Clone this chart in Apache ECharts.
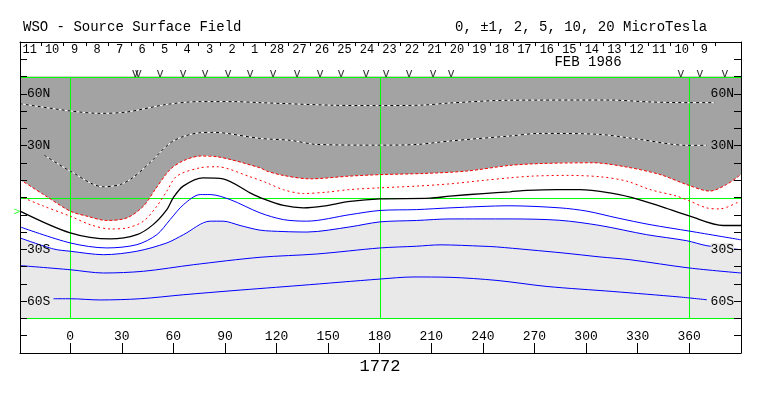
<!DOCTYPE html>
<html><head><meta charset="utf-8">
<script src="https://cdn.jsdelivr.net/npm/echarts@6/dist/echarts.min.js"></script>
<style>html,body{margin:0;padding:0;background:#fff}#c{width:763px;height:396px}</style>
</head><body><div id="c"></div>
<script>
// Latitude values are in "tick units" of the sine-latitude scale: 7 = 90N, 0 = equator, -7 = 90S
const lonMin = -29.2, lonMax = 390.13;

// Contours (Carrington longitude, latitude tick units)
const lonA = [-29.2, 0, 17.4, 33, 56.4, 75.6, 94.7, 110.4, 152.9, 180.2, 205.4, 220.9, 255.8, 313.9, 337.2, 360.4, 374.9];
const latA = [5.43, 5.01, 4.87, 4.95, 5.39, 5.55, 5.55, 5.49, 5.34, 5.32, 5.35, 5.47, 5.63, 5.64, 5.53, 5.49, 5.49];

const lonB = [-15.1, 0, 19.2, 29.1, 36.6, 46.5, 59.9, 75.6, 83.1, 110.4, 127.9, 143.6, 180.2, 201.7, 220.9, 255.8, 273.2, 308.1, 331.3, 358.7, 370.3];
const latB = [2.45, 1.53, 0.62, 0.75, 1.16, 2.03, 3.27, 3.75, 3.77, 3.42, 3.31, 3.07, 3.03, 3.07, 3.27, 3.56, 3.71, 3.65, 3.36, 3.02, 3.02];

const lonR2 = [-29.2, -15.5, 0, 9.7, 21.3, 33, 42.6, 49.4, 58.1, 65.7, 75.6, 85.3, 110.4, 114.3, 123.8, 139.5, 162.8, 182.1, 205.4, 230.6, 255.8, 275, 304, 323.8, 343, 358.5, 372, 381.7, 390.13];
const latR2 = [1.04, 0.17, -0.79, -1.08, -1.33, -1.18, -0.50, 0.46, 1.62, 2.12, 2.40, 2.36, 1.72, 1.53, 1.28, 1.08, 1.24, 1.33, 1.39, 1.53, 1.86, 1.97, 2.01, 1.76, 1.33, 0.75, 0.37, 0.75, 1.33];

const lonR1 = [-27.1, -15.5, 0, 11.6, 23.3, 33, 42.6, 50.4, 56.2, 62, 75.6, 85.3, 104.6, 114.3, 124, 135.6, 149.2, 162.8, 180.2, 201.5, 220.9, 240.2, 255.8, 269.3, 288.7, 308.1, 323.6, 337.2, 352.7, 360.4, 370.1, 377.8, 389.5];
const latR1 = [-0.02, -0.50, -1.08, -1.57, -1.82, -1.76, -1.37, -0.50, 0.37, 1.24, 1.72, 1.78, 1.20, 0.85, 0.45, 0.23, 0.31, 0.46, 0.56, 0.66, 0.79, 0.99, 1.14, 1.24, 1.28, 1.20, 0.95, 0.46, 0.08, -0.21, -0.60, -0.66, -0.21];

const lonN = [-29.2, 0, 23.3, 38.8, 48.2, 56.2, 59.9, 65.7, 77.3, 88.9, 104.6, 112.4, 124, 135.6, 147.2, 162.8, 180.2, 209.3, 220.9, 240.2, 255.8, 265.5, 282.9, 296.5, 313.9, 327.4, 343, 360.4, 379.8, 390.13];
const latN = [-0.79, -2.05, -2.40, -2.15, -1.57, -0.70, -0.02, 0.66, 1.14, 1.08, 0.27, -0.08, -0.46, -0.60, -0.50, -0.23, -0.08, -0.04, 0.08, 0.23, 0.33, 0.41, 0.46, 0.46, 0.27, -0.02, -0.50, -1.08, -1.62, -1.62];

const lonB1 = [-29.2, 0, 21.3, 38.8, 50.4, 58.1, 65.9, 75.6, 81.4, 93, 110.4, 124, 137.6, 162.8, 180.2, 201.5, 220.9, 255.8, 284.8, 300.5, 318, 337.2, 360.4, 390.13];
const latB1 = [-1.70, -2.63, -2.92, -2.73, -2.15, -1.28, -0.41, 0.17, 0.17, -0.12, -0.89, -1.28, -1.37, -0.99, -0.75, -0.70, -0.60, -0.48, -0.60, -0.79, -1.18, -1.57, -1.95, -2.45];

const lonB2 = [-29.2, -9.7, 0, 19.4, 38.8, 56.2, 65.9, 81.4, 88.9, 98.8, 110.4, 123.8, 137.6, 162.8, 180.2, 201.5, 220.9, 255.8, 284.8, 308.1, 335.2, 358.5, 370.3, 390.13];
const latB2 = [-2.34, -2.98, -3.11, -3.31, -3.11, -2.63, -2.15, -1.37, -1.37, -1.62, -1.89, -1.97, -2.00, -1.70, -1.41, -1.33, -1.24, -1.24, -1.32, -1.62, -2.15, -2.50, -2.79, -3.02];

const lonB3 = [-29.2, 0, 19.4, 42.6, 71.7, 110.4, 143.4, 180.2, 201.5, 215.1, 240.1, 248, 286.6, 308.1, 325.5, 360, 390.13];
const latB3 = [-3.94, -4.18, -4.37, -4.27, -3.89, -3.46, -3.27, -2.92, -2.82, -2.74, -2.82, -2.86, -3.21, -3.44, -3.60, -4.08, -4.37];

const lonB4 = [-9.7, 0, 17.4, 40.7, 65.7, 94.7, 133.7, 180.2, 199.4, 220.9, 248.2, 277.3, 315.6, 354.6, 370.3];
const latB4 = [-5.86, -5.86, -5.93, -5.86, -5.63, -5.39, -5.09, -4.72, -4.60, -4.62, -4.80, -5.15, -5.44, -5.76, -5.92];

// Day-of-month scale along the top
const dayLabels = ['11','10','9','8','7','6','5','4','3','2','1','28','27','26','25','24','23','22','21','20','19','18','17','16','15','14','13','12','11','10','9'];
const dayLon = [-23.60, -10.52, 2.56, 15.64, 28.72, 41.80, 54.87, 67.95, 81.03, 94.11, 107.19, 120.27, 133.35, 146.43, 159.51, 172.59, 185.67, 198.75, 211.82, 224.90, 237.98, 251.06, 264.14, 277.22, 290.30, 303.38, 316.46, 329.54, 342.62, 355.70, 368.78];
const daySepLon = [-17.09, -4.01, 9.07, 22.15, 35.23, 48.31, 61.39, 74.47, 87.54, 100.62, 113.70, 126.78, 139.86, 152.94, 166.02, 179.10, 192.18, 205.26, 218.34, 231.42, 244.50, 257.57, 270.65, 283.73, 296.81, 309.89, 322.97, 336.05, 349.13, 362.21, 375.29];

// Observation markers ("v") along the top
const markerLon = [37.9, 39.6, 52.3, 65.7, 78.5, 91.8, 104.6, 118.0, 132.0, 145.3, 157.5, 172.1, 183.7, 197.1, 211.0, 221.5, 355.2, 366.2, 380.7];

// Axis ticks / labels
const lonTicks = [0, 30, 60, 90, 120, 150, 180, 210, 240, 270, 300, 330, 360];
const latTicks = [-9, -8, -7, -6, -5, -4, -3, -2, -1, 0, 1, 2, 3, 4, 5, 6, 7, 8, 9];
const latLabelVals = [6, 3, -3, -6];
const latLabelText = ['60N', '30N', '30S', '60S'];
const meridians = [0, 180, 360];
const parallels = [7, 0, -7];
const earthLat = -0.85;

const title = 'WSO - Source Surface Field';
const unitsText = '0, \u00b11, 2, 5, 10, 20 MicroTesla';
const monthText = 'FEB 1986';
const rotationText = '1772';

const FONT = '"Liberation Mono", "DejaVu Sans Mono", monospace';
const DARK = '#a3a3a3', LIGHT = '#e9e9e9', GREEN = '#00ff00';
const SMOOTH = 0.3;

function pairs(lons, lats) { return lons.map((x, i) => [x, lats[i]]); }
function lineS(lons, lats, color, type, width, z) {
  return { type: 'line', data: pairs(lons, lats), symbol: 'none', showSymbol: false, silent: true,
    smooth: SMOOTH, z: z, clip: true, animation: false, lineStyle: { color: color, type: type, width: width } };
}
function buildPath(pts, a, b) {
  let d = 'M' + pts[0][0] + ' ' + pts[0][1];
  for (let i = 0; i < pts.length - 1; i++) {
    const p0 = pts[Math.max(i - 1, 0)], p1 = pts[i], p2 = pts[i + 1], p3 = pts[Math.min(i + 2, pts.length - 1)];
    const l1 = Math.hypot(p2[0] - p1[0], p2[1] - p1[1]);
    const la = Math.hypot(p1[0] - p0[0], p1[1] - p0[1]), lb = Math.hypot(p3[0] - p2[0], p3[1] - p2[1]);
    const r1 = l1 / ((la + l1) || 1), r2 = l1 / ((l1 + lb) || 1);
    const c1 = [p1[0] + (p2[0] - p0[0]) * SMOOTH * r1, p1[1] + (p2[1] - p0[1]) * SMOOTH * r1];
    const c2 = [p2[0] - (p3[0] - p1[0]) * SMOOTH * r2, p2[1] - (p3[1] - p1[1]) * SMOOTH * r2];
    d += ' C' + c1[0] + ' ' + c1[1] + ' ' + c2[0] + ' ' + c2[1] + ' ' + p2[0] + ' ' + p2[1];
  }
  d += ' L' + a[0] + ' ' + a[1] + ' L' + b[0] + ' ' + b[1] + ' Z';
  return d;
}
function fillS(lons, lats, edge, color) {
  return { type: 'custom', silent: true, z: 1, clip: true, animation: false,
    data: [[lons[0], lats[0]]],
    renderItem: function (params, api) {
      const pts = lons.map((x, i) => api.coord([x, lats[i]]));
      const a = api.coord([lons[lons.length - 1], edge]);
      const b = api.coord([lons[0], edge]);
      return { type: 'path', shape: { pathData: buildPath(pts, a, b) }, style: { fill: color } };
    } };
}
function latFmt(v) {
  const i = latLabelVals.findIndex(t => Math.abs(t - v) < 1e-6);
  return i < 0 ? '' : latLabelText[i];
}

const chart = echarts.init(document.getElementById('c'), null, { renderer: 'canvas' });
const axisLineBlack = { show: true, onZero: false, lineStyle: { color: '#000', width: 1 } };
chart.setOption({
  animation: false,
  backgroundColor: '#fff',
  grid: { left: 20, right: 22, top: 42, bottom: 43, containLabel: false },
  xAxis: [
    { type: 'value', position: 'bottom', min: lonMin, max: lonMax, z: 5,
      axisLine: axisLineBlack,
      axisTick: { show: true, inside: true, length: 10, customValues: lonTicks, lineStyle: { color: '#000' } },
      axisLabel: { show: true, inside: true, margin: 10, customValues: lonTicks, color: '#000', fontFamily: FONT, fontSize: 13 },
      splitLine: { show: false } },
    { type: 'value', position: 'top', min: lonMin, max: lonMax, z: 5,
      axisLine: axisLineBlack,
      axisTick: { show: true, inside: true, length: 4, customValues: daySepLon, lineStyle: { color: '#000' } },
      axisLabel: { show: true, inside: true, margin: 2, customValues: dayLon, color: '#000', fontFamily: FONT, fontSize: 12,
        formatter: function (v) { const i = dayLon.findIndex(t => Math.abs(t - v) < 1e-6); return i < 0 ? '' : dayLabels[i]; } },
      splitLine: { show: false } }
  ],
  yAxis: [
    { type: 'value', position: 'left', min: -9, max: 9, z: 5,
      axisLine: axisLineBlack,
      axisTick: { show: true, inside: true, length: 7, customValues: latTicks, lineStyle: { color: '#000' } },
      axisLabel: { show: true, inside: true, margin: 7, customValues: latLabelVals, color: '#000', fontFamily: FONT, fontSize: 13, formatter: latFmt },
      splitLine: { show: false } },
    { type: 'value', position: 'right', min: -9, max: 9, z: 5,
      axisLine: axisLineBlack,
      axisTick: { show: true, inside: true, length: 7, customValues: latTicks, lineStyle: { color: '#000' } },
      axisLabel: { show: true, inside: true, margin: 7, customValues: latLabelVals, color: '#000', fontFamily: FONT, fontSize: 13,
        formatter: function (v) { const t = latFmt(v); return t ? (v > 0 ? '{n|' + t + '}' : '{s|' + t + '}') : ''; },
        rich: { n: { backgroundColor: DARK, color: '#000', fontFamily: FONT, fontSize: 13 },
                s: { backgroundColor: LIGHT, color: '#000', fontFamily: FONT, fontSize: 13 } } },
      splitLine: { show: false } }
  ],
  series: [
    fillS(lonR2, latR2, 7, DARK),
    fillS(lonB2, latB2, -7, LIGHT),
    lineS(lonA, latA, '#ffffff', 'solid', 1, 3),
    lineS(lonA, latA, '#000000', [3, 3], 1, 4),
    lineS(lonB, latB, '#ffffff', 'solid', 1, 3),
    lineS(lonB, latB, '#000000', [3, 3], 1, 4),
    lineS(lonR2, latR2, '#ff0000', [3, 2], 1, 4),
    lineS(lonR1, latR1, '#ff0000', [2, 3], 1, 4),
    lineS(lonN, latN, '#000000', 'solid', 1.3, 4),
    lineS(lonB1, latB1, '#0000ff', 'solid', 1, 4),
    lineS(lonB2, latB2, '#0000ff', 'solid', 1, 4),
    lineS(lonB3, latB3, '#0000ff', 'solid', 1, 4),
    lineS(lonB4, latB4, '#0000ff', 'solid', 1, 4),
    { type: 'scatter', data: markerLon.map(x => [x, 7]), symbol: 'circle', symbolSize: 0, silent: true, z: 6, clip: false,
      itemStyle: { color: 'rgba(0,0,0,0)' },
      label: { show: true, formatter: 'v', position: 'top', distance: -3, color: '#000', fontFamily: FONT, fontSize: 12 } },
    { type: 'scatter', data: [[lonMin, earthLat]], symbol: 'circle', symbolSize: 0, silent: true, z: 6, clip: false,
      itemStyle: { color: 'rgba(0,0,0,0)' },
      label: { show: true, formatter: '>', position: 'left', distance: 0, color: GREEN, fontFamily: FONT, fontSize: 11 } }
  ]
});

// Green reference grid (poles, equator, meridians 0/180/360), positioned through the chart's own scales
const toPx = p => chart.convertToPixel({ seriesIndex: 0 }, p);
const gridEls = [];
parallels.forEach(v => {
  const p1 = toPx([lonMin, v]), p2 = toPx([lonMax, v]);
  gridEls.push({ type: 'rect', z: 2, silent: true,
    shape: { x: Math.round(p1[0]), y: Math.round(p1[1]), width: Math.round(p2[0]) - Math.round(p1[0]), height: 1 },
    style: { fill: GREEN } });
});
meridians.forEach(m => {
  const p1 = toPx([m, 7]), p2 = toPx([m, -7]);
  const y1 = Math.round(p1[1]), y2 = Math.round(p2[1]);
  gridEls.push({ type: 'rect', z: 2, silent: true,
    shape: { x: Math.round(p1[0]), y: y1, width: 1, height: y2 - y1 + 1 },
    style: { fill: GREEN } });
});

chart.setOption({
  graphic: [
    { type: 'text', x: 23, y: 27.5, style: { text: title, font: '14px ' + FONT, fill: '#000', align: 'left', verticalAlign: 'middle' } },
    { type: 'text', x: 455, y: 27.5, style: { text: unitsText, font: '14px ' + FONT, fill: '#000', align: 'left', verticalAlign: 'middle' } },
    { type: 'text', x: 588, y: 62, style: { text: monthText, font: '14px ' + FONT, fill: '#000', align: 'center', verticalAlign: 'middle' } },
    { type: 'text', x: 380, y: 366, style: { text: rotationText, font: '17px ' + FONT, fill: '#000', align: 'center', verticalAlign: 'middle' } }
  ].concat(gridEls)
});
</script>
</body></html>
